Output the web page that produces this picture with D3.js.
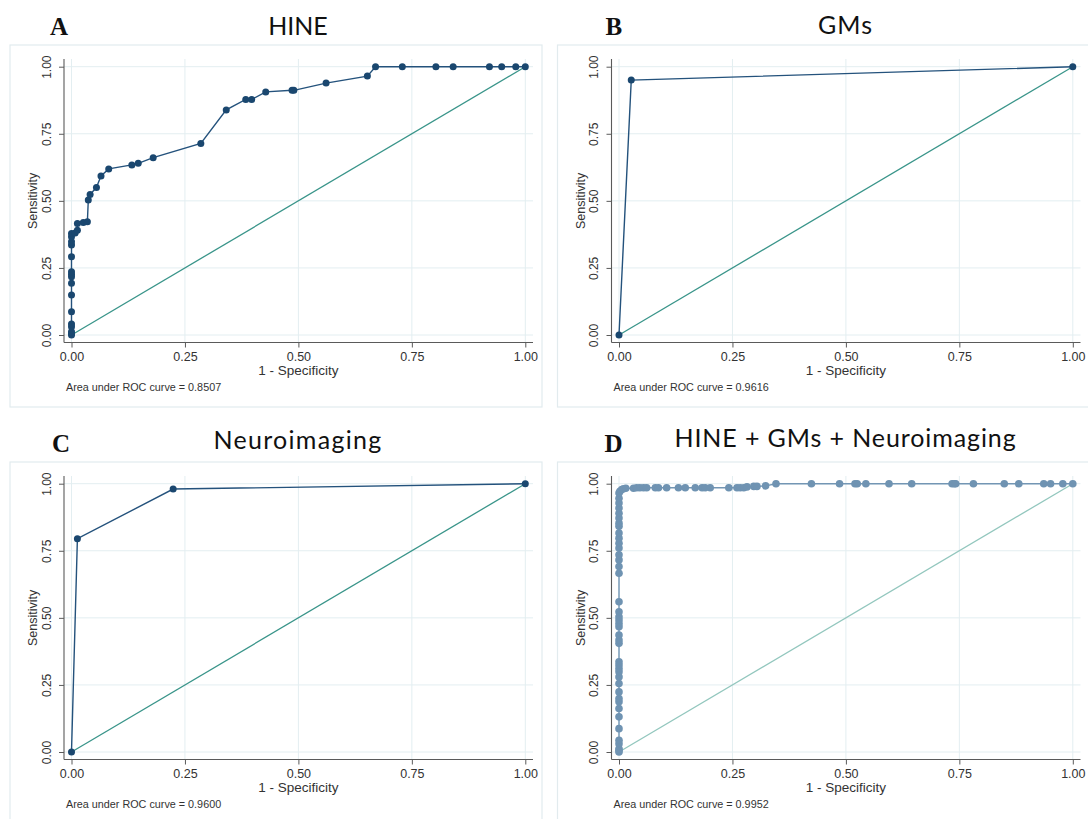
<!DOCTYPE html>
<html><head><meta charset="utf-8">
<script src="https://cdn.jsdelivr.net/npm/d3@7"></script>
<style>body{margin:0;background:#fff}svg{display:block}</style>
</head><body>
<svg id="c" width="1088" height="819"></svg>
<script>
// ---------- data ----------
const panelLetters = ["A", "B", "C", "D"];
const panelTitles = ["HINE", "GMs", "Neuroimaging", "HINE + GMs + Neuroimaging"];
const aucValues = ["0.8507", "0.9616", "0.9600", "0.9952"];
const tickValues = [0, 0.25, 0.5, 0.75, 1];

const hineFpr = [0,0,0,0,0,0,0,0,0,0,0,0,0,0,0,0,0.008,0.013,0.013,0.026,0.035,0.037,0.041,0.055,0.065,0.082,0.133,0.147,0.18,0.285,0.341,0.384,0.397,0.428,0.486,0.49,0.561,0.652,0.67,0.729,0.803,0.841,0.921,0.948,0.979,1];
const hineTpr = [0,0.006,0.012,0.031,0.041,0.087,0.149,0.193,0.217,0.226,0.236,0.292,0.335,0.348,0.366,0.378,0.38,0.39,0.416,0.419,0.422,0.503,0.524,0.55,0.593,0.619,0.634,0.64,0.661,0.714,0.839,0.878,0.878,0.906,0.912,0.912,0.939,0.965,1,1,1,1,1,1,1,1];

const gmsFpr = [0, 0.027, 1];
const gmsTpr = [0, 0.95, 1];

const neuroFpr = [0, 0.013, 0.224, 1];
const neuroTpr = [0, 0.795, 0.98, 1];

const combFpr = [0,0,0,0,0,0,0,0,0,0,0,0,0,0,0,0,0,0,0,0,0,0,0,0,0,0,0,0,0,0,0,0,0,0,0,0,0,0,0,0,0,0,
  0.002,0.006,0.01,0.015,0.032,0.039,0.046,0.054,0.061,0.08,0.087,0.105,0.131,0.146,0.168,0.183,0.19,0.201,0.242,0.26,0.267,0.275,0.282,0.297,0.304,0.323,0.346,0.424,0.486,0.52,0.525,0.544,0.595,0.645,0.734,0.739,0.742,0.781,0.849,0.881,0.936,0.951,0.978,1];
const combTpr = [0,0.006,0.012,0.031,0.044,0.087,0.131,0.162,0.187,0.199,0.224,0.255,0.28,0.299,0.311,0.324,0.336,0.405,0.417,0.436,0.467,0.479,0.492,0.504,0.523,0.56,0.666,0.691,0.716,0.735,0.76,0.778,0.797,0.816,0.841,0.853,0.872,0.89,0.909,0.928,0.946,0.965,
  0.972,0.978,0.981,0.983,0.983,0.985,0.985,0.985,0.985,0.985,0.985,0.985,0.985,0.985,0.985,0.985,0.985,0.985,0.985,0.985,0.985,0.985,0.988,0.99,0.99,0.992,1,1,1,1,1,1,1,1,1,1,1,1,1,1,1,1,1,1];

const seriesFpr = [hineFpr, gmsFpr, neuroFpr, combFpr];
const seriesTpr = [hineTpr, gmsTpr, neuroTpr, combTpr];

// ---------- layout / style ----------
const layout = [
  {dx: 0,     dy: 0,   letterX: 50,  letterY: 35,  titleY: 35,   spacing: 0},
  {dx: 547.5, dy: 0,   letterX: 58,  letterY: 35,  titleY: 34,   spacing: 1},
  {dx: 0,     dy: 417, letterX: 52,  letterY: 35,  titleY: 31.5, spacing: 1.3},
  {dx: 547.5, dy: 417, letterX: 57,  letterY: 35,  titleY: 30,   spacing: 0.9},
];
const curveColors = ["#1a476f", "#1a476f", "#1a476f", "#6f93b2"];
const lineColors = ["#24527c", "#24527c", "#24527c", "#7396b4"];
const diagColors = ["#3a958a", "#3a958a", "#3a958a", "#93c7be"];
const markerR = [3.5, 3.5, 3.5, 3.8];
const gridColor = "#e3eef1";
const axisColor = "#5a5a5a";
const sans = "'Liberation Sans', Arial, sans-serif";

const svg = d3.select("#c");
svg.append("rect").attr("width", 1088).attr("height", 819).attr("fill", "#fff");

panelTitles.forEach((title, i) => {
  const L = layout[i];
  const g = svg.append("g").attr("transform", `translate(${L.dx},${L.dy})`);

  // outer graph frame
  g.append("rect").attr("x", 10).attr("y", 45).attr("width", 532).attr("height", 362)
    .attr("fill", "none").attr("stroke", "#e2ebee").attr("stroke-width", 1.2);

  const x = d3.scaleLinear().domain([0, 1]).range([71.5, 525.3]);
  const y = d3.scaleLinear().domain([0, 1]).range([335, 66.7]);
  const axX = 64, axY = 342.5, top = 59, right = 533;

  // grid
  g.append("g").selectAll("line.h").data(tickValues).join("line")
    .attr("x1", axX).attr("x2", right).attr("y1", d => y(d)).attr("y2", d => y(d))
    .attr("stroke", gridColor).attr("stroke-width", 1);
  g.append("g").selectAll("line.v").data(tickValues).join("line")
    .attr("y1", top).attr("y2", axY).attr("x1", d => x(d)).attr("x2", d => x(d))
    .attr("stroke", gridColor).attr("stroke-width", 1);

  // axes
  const yAxis = g.append("g").attr("transform", `translate(${axX},0)`)
    .call(d3.axisLeft(y).tickValues(tickValues).tickFormat(d3.format(".2f")).tickSize(5).tickSizeOuter(0));
  yAxis.select(".domain").remove();
  yAxis.selectAll("line").attr("stroke", axisColor);
  yAxis.selectAll("text")
    .attr("x", null).attr("dy", null)
    .attr("transform", "translate(-17.5,0) rotate(-90)")
    .attr("text-anchor", "middle").attr("dominant-baseline", "central")
    .attr("font-family", sans).attr("font-size", 12).attr("fill", "#333");

  const xAxis = g.append("g").attr("transform", `translate(0,${axY})`)
    .call(d3.axisBottom(x).tickValues(tickValues).tickFormat(d3.format(".2f")).tickSize(5).tickSizeOuter(0));
  xAxis.select(".domain").remove();
  xAxis.selectAll("line").attr("stroke", axisColor);
  xAxis.selectAll("text").attr("y", 14.5).attr("dy", "0.35em")
    .attr("font-family", sans).attr("font-size", 12.5).attr("fill", "#333");

  g.append("line").attr("x1", axX).attr("x2", axX).attr("y1", top).attr("y2", axY)
    .attr("stroke", axisColor).attr("stroke-width", 1.1);
  g.append("line").attr("x1", axX).attr("x2", right).attr("y1", axY).attr("y2", axY)
    .attr("stroke", axisColor).attr("stroke-width", 1.1);

  // axis titles
  g.append("text").attr("x", (x(0) + x(1)) / 2).attr("y", 375)
    .attr("text-anchor", "middle").attr("font-family", sans).attr("font-size", 13.5)
    .attr("fill", "#333").text("1 - Specificity");
  g.append("text").attr("transform", `translate(33,${(y(0) + y(1)) / 2}) rotate(-90)`)
    .attr("text-anchor", "middle").attr("dominant-baseline", "central")
    .attr("font-family", sans).attr("font-size", 12.5).attr("fill", "#333").text("Sensitivity");
  g.append("text").attr("x", 66).attr("y", 390.5)
    .attr("font-family", sans).attr("font-size", 10.8).attr("fill", "#333")
    .text("Area under ROC curve = " + aucValues[i]);

  // reference diagonal
  g.append("line").attr("x1", x(0)).attr("y1", y(0)).attr("x2", x(1)).attr("y2", y(1))
    .attr("stroke", diagColors[i]).attr("stroke-width", 1.3);

  // ROC curve
  const pts = seriesFpr[i].map((f, k) => [f, seriesTpr[i][k]]);
  g.append("path").datum(pts)
    .attr("d", d3.line().x(d => x(d[0])).y(d => y(d[1])))
    .attr("fill", "none").attr("stroke", lineColors[i]).attr("stroke-width", 1.4);
  g.append("g").selectAll("circle").data(pts).join("circle")
    .attr("cx", d => x(d[0])).attr("cy", d => y(d[1])).attr("r", markerR[i])
    .attr("fill", curveColors[i]);

  // panel letter and title
  g.append("text").attr("x", L.letterX).attr("y", L.letterY)
    .attr("font-family", "'Liberation Serif', 'Times New Roman', serif")
    .attr("font-weight", "bold").attr("font-size", 25).attr("fill", "#111").text(panelLetters[i]);
  g.append("text").attr("x", 298).attr("y", L.titleY)
    .attr("text-anchor", "middle").attr("font-family", "Lato, 'Open Sans', sans-serif")
    .attr("letter-spacing", L.spacing)
    .attr("font-size", 25).attr("fill", "#111").text(title);
});
</script>
</body></html>
